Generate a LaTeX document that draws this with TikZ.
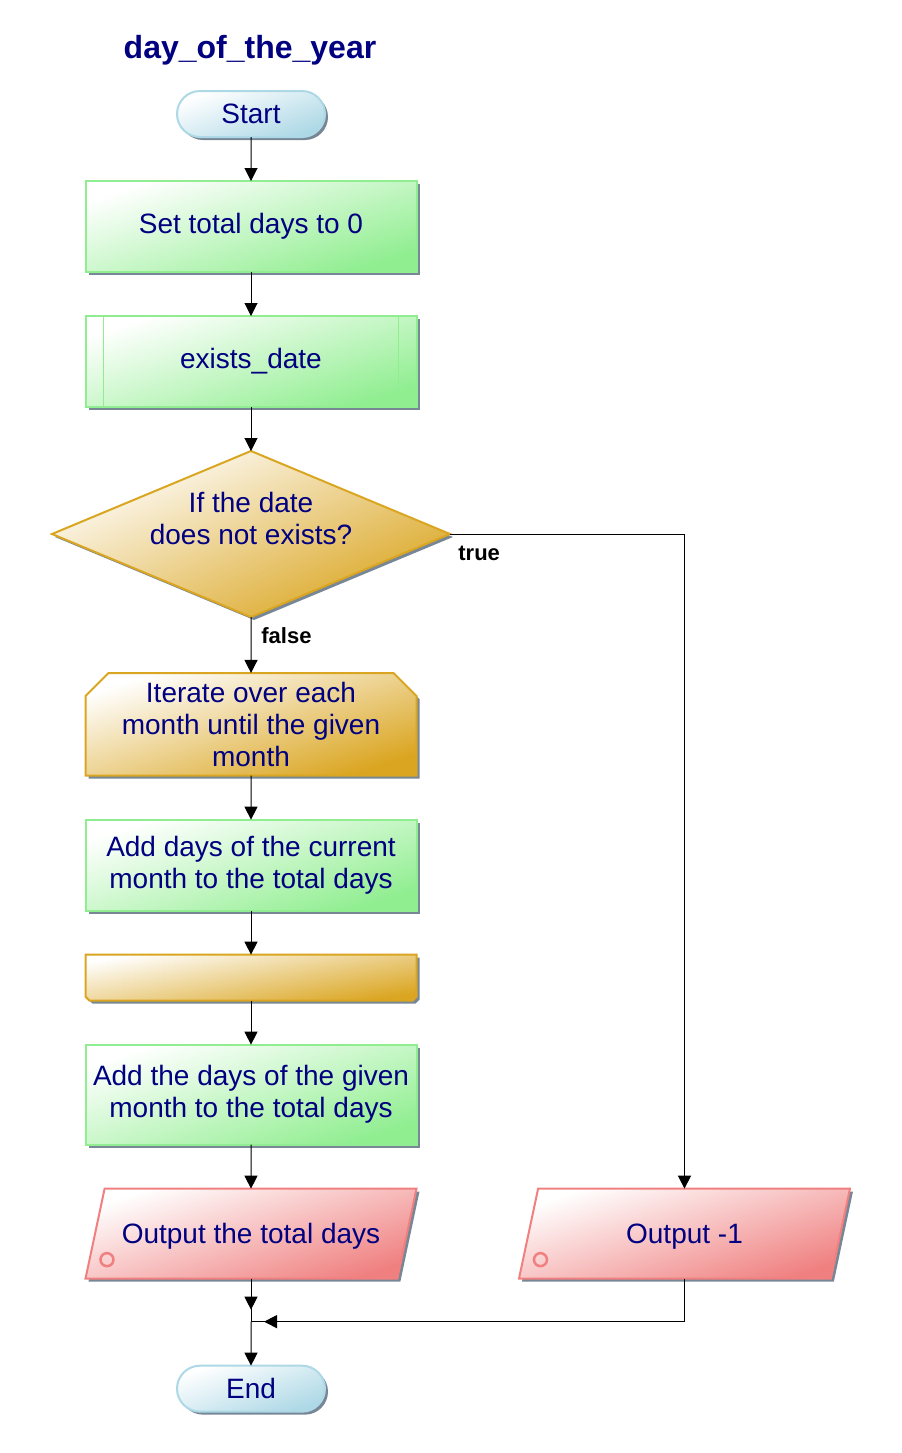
\documentclass[tikz,border=0pt]{standalone}
\usepackage{fontspec}
\setmainfont{Liberation Sans}
\usetikzlibrary{shapes.geometric,shapes.misc,arrows.meta,positioning,shadows}
\definecolor{navytext}{RGB}{0,0,128}
\definecolor{termblue}{RGB}{173,216,230}
\definecolor{procgreen}{RGB}{144,238,144}
\definecolor{loopgold}{RGB}{218,165,32}
\definecolor{outred}{RGB}{240,128,128}
\definecolor{shadowgray}{RGB}{120,135,150}
\tikzset{base/.style={draw,line width=1pt,outer sep=0pt,inner sep=1pt,align=center,text=navytext,
                      font=\fontsize{14}{16}\selectfont,
                      drop shadow={shadow xshift=1.5pt,shadow yshift=-1.5pt,fill=shadowgray,opacity=1}},
         terminal/.style={base,rounded rectangle,minimum width=76pt,minimum height=23pt,
                          draw=termblue,top color=white,bottom color=termblue,shading angle=20},
         process/.style={base,rectangle,minimum width=165.5pt,minimum height=45.5pt,
                         draw=procgreen,top color=white,bottom color=procgreen,shading angle=18},
         decision/.style={base,diamond,aspect=2.4,minimum width=199pt,minimum height=83pt,inner sep=0pt,
                          draw=loopgold,top color=white,bottom color=loopgold,shading angle=24},
         loopbox/.style={base,chamfered rectangle,minimum width=165.5pt,
                         draw=loopgold,top color=white,bottom color=loopgold,shading angle=18},
         output/.style={base,trapezium,trapezium left angle=78,trapezium right angle=102,
                        trapezium stretches body=true,
                        minimum width=165.5pt,text height=26.5pt,text depth=16.5pt,
                        draw=outred,top color=white,bottom color=outred,shading angle=18},
         subline/.style={draw=procgreen,line width=0.75pt},
         icon/.style={draw=outred,line width=1.25pt},
         line/.style={draw,line width=0.5pt},
         arrow/.style={line,-{Triangle[length=6.5pt,width=6.5pt]}},
         edge label/.style={inner sep=0pt,font=\fontsize{11}{13}\selectfont\bfseries},
         title/.style={text=navytext,font=\fontsize{16}{19}\selectfont\bfseries}
}
\begin{document}
\begin{tikzpicture}[x=0.5pt,y=-0.5pt,node distance=22pt]
\useasboundingbox (0,0) rectangle (901,1453);
\node[title] (name) at (250,50) {day\_of\_the\_year};
\node[terminal] (start) at (251,114) {Start};
\node[process,below=of start] (init) {Set total days to 0};
\node[process,below=of init] (exists) {exists\_date};
\draw[subline] ([xshift=9pt]exists.north west) -- ([xshift=9pt]exists.south west);
\draw[subline] ([xshift=-9pt]exists.north east) -- ([xshift=-9pt]exists.south east);
\node[decision,below=of exists] (dec)
      {\raisebox{2.5pt}[0pt][0pt]{\begin{tabular}{@{}c@{}}If the date\\does not exists?\end{tabular}}};
\node[loopbox,below=28pt of dec,minimum height=50.5pt,
      chamfered rectangle corners={north west,north east},chamfered rectangle xsep=8pt] (loop)
      {Iterate over each\\month until the given\\month};
\node[process,below=of loop] (add1) {Add days of the current\\month to the total days};
\node[loopbox,below=of add1,minimum height=23pt,shading angle=10,
      chamfered rectangle corners={south west,south east},chamfered rectangle xsep=3.5pt] (loopend) {};
\node[process,below=of loopend,minimum height=50pt] (add2) {Add the days of the given\\month to the total days};
\node[output,below=of add2] (out1) {Output the total days};
\node[output] (out2) at ([xshift=216.75pt]out1) {Output -1};
\draw[icon] ([xshift=-72pt,yshift=-13pt]out1.center) circle[radius=3.25pt];
\draw[icon] ([xshift=-72pt,yshift=-13pt]out2.center) circle[radius=3.25pt];
\coordinate[below=21.5pt of out1] (merge);
\node[terminal,below=22pt of merge] (end) {End};

\draw[arrow] (start) -- (init);
\draw[arrow] (init) -- (exists);
\draw[arrow] (exists) -- (dec);
\draw[arrow] (dec) -- (loop);
\draw[arrow] (loop) -- (add1);
\draw[arrow] (add1) -- (loopend);
\draw[arrow] (loopend) -- (add2);
\draw[arrow] (add2) -- (out1);
\draw[arrow] (dec.east) -| (out2);
\draw[line] (out1.south) -- (merge);
\draw[arrow] (out1.south) -- ([yshift=6pt]merge);
\draw[line] (out2.south) |- (merge);
\draw[arrow] (out2.south) |- ([xshift=6.5pt]merge);
\draw[arrow] (merge) -- (end);
\node[edge label,below right=6pt and 4pt of dec.east] (t) {true};
\node[edge label,below right=5pt and 5pt of dec.south] (f) {false};
\end{tikzpicture}
\end{document}
